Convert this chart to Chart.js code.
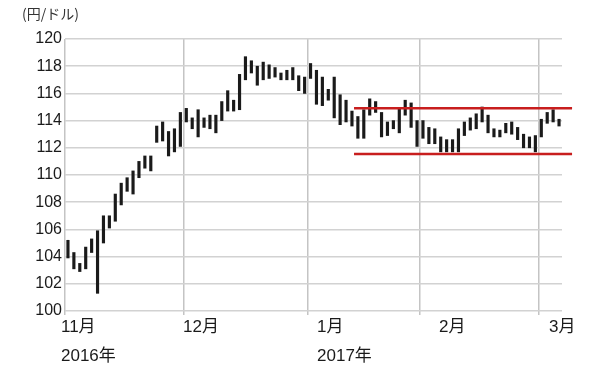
<!DOCTYPE html>
<html>
<head>
<meta charset="utf-8">
<script src="https://cdn.jsdelivr.net/npm/chart.js@4.4.1/dist/chart.umd.min.js"></script>
<style>
  html, body { margin: 0; padding: 0; background: #ffffff; }
  #wrap { width: 600px; height: 372px; position: relative; }
</style>
</head>
<body>
<div id="wrap"><canvas id="c" width="600" height="372"></canvas></div>
<script>
// ---- Data (USD/JPY daily ranges, Nov 2016 - early Mar 2017) ----
const dailyLow = [
  103.9,103.1,102.9,103.1,104.3,101.3,105.0,106.1,106.6,107.8,108.8,108.6,109.8,110.5,110.3,112.4,112.5,111.4,111.7,112.1,
  113.9,113.4,112.8,113.5,113.4,113.1,114.0,114.7,114.7,114.8,117.0,117.5,116.6,117.0,117.1,117.2,117.0,117.0,117.0,116.2,116.0,
  117.1,115.2,115.1,115.5,114.2,113.7,113.9,113.6,112.7,112.7,114.4,114.6,112.8,112.9,113.4,113.1,114.4,113.5,112.1,
  112.7,112.3,112.3,111.7,111.7,111.7,111.7,112.9,113.3,113.4,113.9,113.1,112.8,112.8,113.1,113.0,112.6,112.0,112.0,111.7,
  112.8,113.8,113.9,113.6
];
const dailyHigh = [
  105.2,104.3,103.5,104.7,105.3,105.9,107.0,107.0,108.6,109.4,109.8,110.3,111.0,111.4,111.4,113.6,113.9,113.2,113.4,114.6,
  114.9,114.2,114.8,114.2,114.4,114.4,115.4,116.2,115.5,117.4,118.7,118.4,118.0,118.3,118.1,117.9,117.5,117.7,117.9,117.3,117.2,
  118.2,117.7,117.2,116.3,117.2,115.9,115.5,114.7,114.3,114.8,115.6,115.4,114.6,113.9,114.0,114.9,115.5,115.3,114.0,
  114.0,113.5,113.4,112.8,112.6,112.6,113.4,113.9,114.2,114.5,115.0,114.4,113.4,113.3,113.8,113.9,113.5,113.0,112.8,112.9,
  114.1,114.6,114.8,114.1
];
// month boundaries, in trading-day index units
const monthBoundaries = [0.5, 20.5, 41.5, 60.5, 80.5];
// axis label rows and where they sit (trading-day index units)
const monthLabels = [['11月','2016年'], ['12月'], ['1月','2017年'], ['2月'], ['3月']];
const monthLabelAt = [-0.18, 20.45, 43.1, 63.7, 82.3];
const yTicks = [100,102,104,106,108,110,112,114,116,118,120];
// range channel (resistance / support)
const resistanceLevel = 114.9;
const supportLevel = 111.55;
const channelFrom = 49.35;
const channelTo = 86.2;
const unitLabel = '(円/ドル)';

const bars = dailyLow.map((lo, i) => ({ x: i + 1, y: [lo, dailyHigh[i]] }));

Chart.defaults.font.family = '"Liberation Sans", "Noto Sans CJK JP", Arial, sans-serif';

const unitPlugin = {
  id: 'unitLabel',
  afterDraw(chart) {
    const ctx = chart.ctx;
    ctx.save();
    ctx.font = '14px "Noto Sans CJK JP", sans-serif';
    ctx.fillStyle = '#333333';
    ctx.textBaseline = 'middle';
    ctx.textAlign = 'left';
    ctx.fillText(unitLabel, 22, 14);
    ctx.restore();
  }
};

new Chart(document.getElementById('c'), {
  type: 'bar',
  data: {
    datasets: [
      {
        type: 'line',
        data: [{ x: channelFrom, y: resistanceLevel }, { x: channelTo, y: resistanceLevel }],
        borderColor: '#c81e1e', borderWidth: 2.5, pointRadius: 0, clip: false, order: 0
      },
      {
        type: 'line',
        data: [{ x: channelFrom, y: supportLevel }, { x: channelTo, y: supportLevel }],
        borderColor: '#c81e1e', borderWidth: 2.5, pointRadius: 0, clip: false, order: 0
      },
      {
        type: 'bar',
        data: bars,
        backgroundColor: '#1a1a1a',
        borderWidth: 0,
        barThickness: 2.5,
        order: 1
      }
    ]
  },
  options: {
    responsive: false,
    animation: false,
    events: [],
    layout: { padding: { top: 39, right: 38, left: 0, bottom: 0 } },
    plugins: { legend: { display: false }, tooltip: { enabled: false }, title: { display: false } },
    scales: {
      x: {
        type: 'linear',
        position: 'bottom',
        offset: false,
        min: 0.5, max: 84.5,
        afterBuildTicks: s => { s.ticks = monthBoundaries.map(v => ({ value: v })); },
        afterFit: s => { s.height = 0; },
        ticks: { display: false },
        grid: { offset: false, color: '#c4c4c4', lineWidth: 1.5, drawTicks: true, tickLength: 4 },
        border: { display: false }
      },
      x2: {
        type: 'linear',
        position: 'bottom',
        offset: false,
        min: 0.5, max: 84.5,
        afterBuildTicks: s => { s.ticks = monthLabelAt.map(v => ({ value: v })); },
        afterFit: s => { s.height = 61; },
        ticks: {
          autoSkip: false, maxRotation: 0, minRotation: 0, align: 'start', padding: 2,
          color: '#1a1a1a',
          font: { size: 17, lineHeight: 1.7 },
          callback: (v, i) => monthLabels[i]
        },
        grid: { display: false, offset: false, drawTicks: false },
        border: { display: false }
      },
      y: {
        min: 100, max: 120,
        afterBuildTicks: s => { s.ticks = yTicks.map(v => ({ value: v })); },
        afterFit: s => { s.width = 65; },
        ticks: { color: '#1a1a1a', font: { size: 16 }, padding: 3 },
        grid: { color: '#d2d2d2', lineWidth: 1.5, drawTicks: false },
        border: { display: false }
      }
    }
  },
  plugins: [unitPlugin]
});
</script>
</body>
</html>
